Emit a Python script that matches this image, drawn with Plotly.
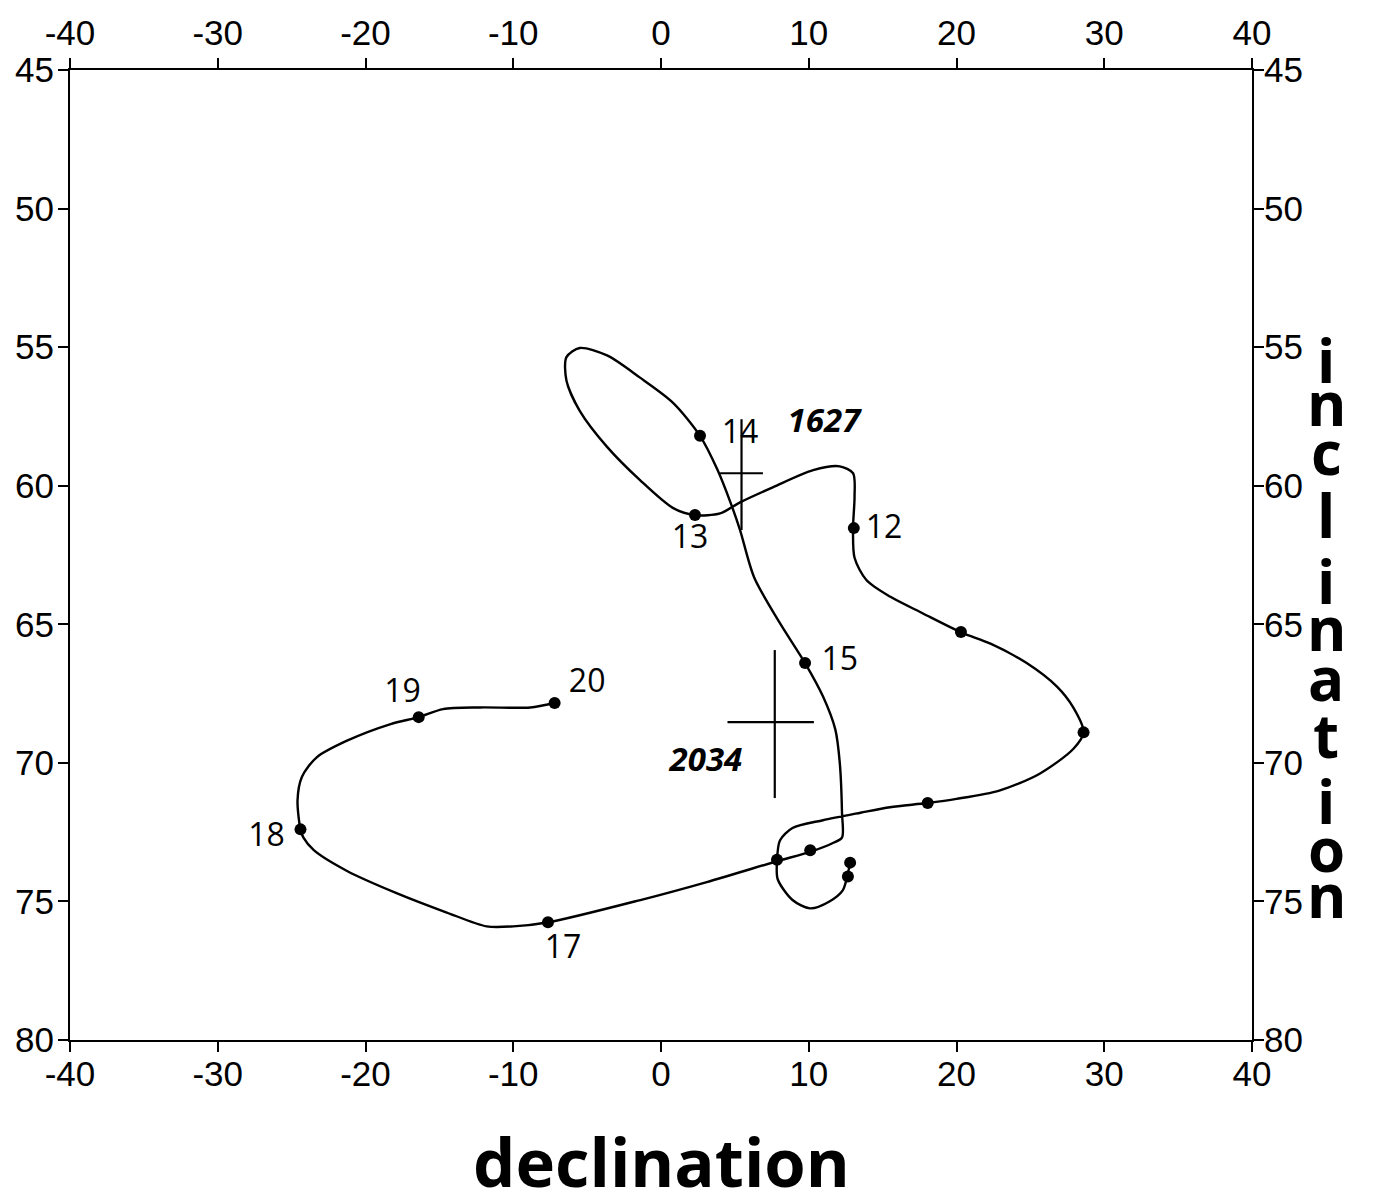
import plotly.graph_objects as go

# ---- data (declination, inclination) ----
curve_dec = [12.8, 12.6, 12.3, 11.4, 10.1, 8.9, 7.9, 7.85, 8.05, 8.9, 10.96, 13.5, 15.5, 18.0,
             20.0, 22.9, 25.6, 27.9, 28.6, 27.9, 26.8, 24.75, 22.3, 20.35, 17.7, 15.5, 13.9,
             13.1, 13.0, 13.1, 13.0, 12.1, 10.3, 7.6, 5.35, 4.0, 2.3, 0.8, -1.42, -3.65, -5.5,
             -6.4, -6.4, -5.5, -3.65, -1.42, 0.8, 2.64, 3.8, 4.7, 5.35, 6.3, 8.05, 9.75, 10.96,
             11.8, 12.1, 12.25, 12.25, 11.6, 10.15, 7.85, 3.1, -1.4, -7.6, -10.0, -11.8, -14.5,
             -17.9, -21.25, -23.5, -24.2, -24.4, -24.6, -24.3, -23.3, -21.25, -18.3, -16.4,
             -14.75, -12.25, -8.85, -7.25]
curve_inc = [73.6, 74.1, 74.6, 75.0, 75.25, 74.95, 74.2, 73.55, 72.8, 72.35, 72.07, 71.8, 71.6,
             71.45, 71.3, 71.0, 70.4, 69.5, 68.9, 68.0, 67.25, 66.4, 65.7, 65.3, 64.6, 64.0, 63.4,
             62.6, 61.5, 60.4, 59.55, 59.3, 59.44, 60.05, 60.6, 61.0, 61.06, 60.8, 59.8, 58.6,
             57.3, 56.2, 55.36, 55.03, 55.3, 56.1, 57.0, 58.2, 59.4, 60.6, 61.6, 63.3, 64.96,
             66.4, 67.6, 68.8, 70.0, 71.8, 72.7, 72.9, 73.2, 73.55, 74.3, 74.95, 75.75, 75.9,
             75.9, 75.4, 74.7, 73.9, 73.15, 72.7, 72.4, 71.35, 70.5, 69.8, 69.2, 68.6, 68.35,
             68.06, 68.0, 68.0, 67.85]

dot_dec = [12.8, 12.65, 7.85, 18.05, 28.6, 20.3, 13.05, 2.3, 2.64, 9.75, 10.1, -7.65, -24.4, -16.4, -7.2]
dot_inc = [73.6, 74.1, 73.5, 71.45, 68.9, 65.28, 61.53, 61.06, 58.2, 66.4, 73.15, 75.75, 72.4, 68.35, 67.84]

label_text = ["12", "13", "14", "15", "17", "18", "19", "20"]
label_dec = [15.1, 1.96, 5.35, 12.1, -6.63, -26.7, -17.5, -5.0]
label_inc = [61.6, 61.96, 58.17, 66.36, 76.76, 72.7, 67.5, 67.15]

site_name = ["1627", "2034"]
site_dec = [5.45, 7.7]
site_inc = [59.55, 68.53]
site_dec_plus = [1.45, 2.65]
site_dec_minus = [1.45, 3.2]
site_inc_plus = [2.05, 2.74]
site_inc_minus = [1.95, 2.6]
site_label_dec = [11.03, 3.04]
site_label_inc = [57.78, 70.0]

x_ticks = [-40, -30, -20, -10, 0, 10, 20, 30, 40]
x_ticktext = ["-40", "-30", "-20", "-10", "0", "10", "20", "30", "40"]
y_ticks = [45, 50, 55, 60, 65, 70, 75, 80]
y_ticktext = ["45", "50", "55", "60", "65", "70", "75", "80"]

y_title_letters = list("inclination")
y_title_baselines_px = [385, 428, 477, 540, 606, 653, 703, 760, 826, 874, 920]

TICKFONT = dict(family="Liberation Sans, Arial, sans-serif", size=35, color="black")
LABFONT = dict(family="Open Sans", size=32, color="black")

fig = go.Figure()

fig.add_trace(go.Scatter(x=curve_dec, y=curve_inc, mode="lines",
                         line=dict(color="black", width=2.4, shape="spline", smoothing=0.8),
                         hoverinfo="skip", showlegend=False))
fig.add_trace(go.Scatter(x=dot_dec, y=dot_inc, mode="markers",
                         marker=dict(color="black", size=12), showlegend=False))
fig.add_trace(go.Scatter(x=label_dec, y=label_inc, mode="text", text=label_text,
                         textposition="middle center", textfont=LABFONT, showlegend=False))
fig.add_trace(go.Scatter(x=site_dec, y=site_inc, mode="markers",
                         marker=dict(size=1, color="rgba(0,0,0,0)"),
                         error_x=dict(type="data", symmetric=False, array=site_dec_plus,
                                      arrayminus=site_dec_minus, width=0, thickness=2.2, color="black"),
                         error_y=dict(type="data", symmetric=False, array=site_inc_plus,
                                      arrayminus=site_inc_minus, width=0, thickness=2.2, color="black"),
                         showlegend=False))
fig.add_trace(go.Scatter(x=site_label_dec, y=site_label_inc, mode="text", text=site_name,
                         textposition="middle center",
                         textfont=dict(family="Open Sans", size=33, color="black",
                                       weight="bold", style="italic"),
                         showlegend=False))
# dummy trace to activate top/right axes
fig.add_trace(go.Scatter(x=dot_dec, y=dot_inc, xaxis="x2", yaxis="y2", mode="markers",
                         marker=dict(size=1, color="rgba(0,0,0,0)"), hoverinfo="skip",
                         showlegend=False))

axis_common = dict(showline=True, linecolor="black", linewidth=2, ticks="outside",
                   ticklen=10, tickwidth=1.5, tickcolor="black", showgrid=False,
                   zeroline=False, tickfont=TICKFONT, automargin=False)

# page has an 8px body margin; plot area lands at page x 70..1252, y 70..1040
fig.update_layout(
    width=1365, height=1194,
    margin=dict(l=62, r=121, t=62, b=162),
    paper_bgcolor="white", plot_bgcolor="white",
    xaxis=dict(range=[-40, 40], tickvals=x_ticks, ticktext=x_ticktext,
               ticklabelstandoff=-8, **axis_common),
    xaxis2=dict(range=[-40, 40], tickvals=x_ticks, ticktext=x_ticktext, overlaying="x",
                side="top", anchor="y", ticklabelstandoff=-1, **axis_common),
    yaxis=dict(range=[80, 45], tickvals=y_ticks, ticktext=y_ticktext,
               ticklabelstandoff=-3, **axis_common),
    yaxis2=dict(range=[80, 45], tickvals=y_ticks, ticktext=y_ticktext, overlaying="y",
                side="right", anchor="x", ticklabelstandoff=-7, **axis_common),
)

# x title
fig.add_annotation(text="declination", xref="paper", yref="paper", x=0.5,
                   y=(1040 - (1187 - 26)) / 970, xanchor="center", yanchor="middle",
                   showarrow=False,
                   font=dict(family="Open Sans", size=67, color="black", weight="bold"))
# y title, stacked upright letters
for ch, bl in zip(y_title_letters, y_title_baselines_px):
    fig.add_annotation(text=ch, xref="paper", yref="paper", x=(1326 - 70) / 1182,
                       y=(1040 - (bl - 25)) / 970, xanchor="center", yanchor="middle",
                       showarrow=False,
                       font=dict(family="Open Sans", size=60, color="black", weight="bold"))

fig.write_html("out.html")
